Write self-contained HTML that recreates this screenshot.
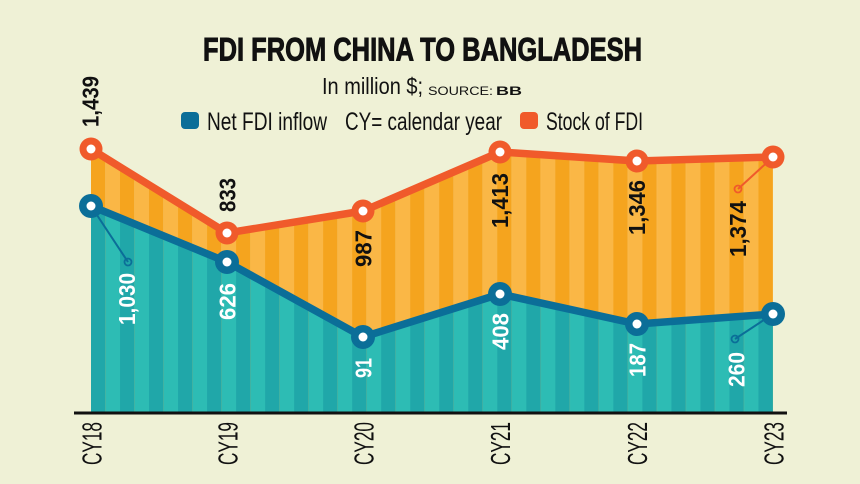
<!DOCTYPE html>
<html>
<head>
<meta charset="utf-8">
<style>
  html, body { margin: 0; padding: 0; background: #eff1d6; }
  svg { display: block; }
  text { font-family: "Liberation Sans", sans-serif; }
</style>
</head>
<body>
<svg width="860" height="484" viewBox="0 0 860 484" xmlns="http://www.w3.org/2000/svg">
  <defs>
    <pattern id="teal" patternUnits="userSpaceOnUse" x="91" y="0" width="29.02" height="484">
      <rect x="0" y="0" width="14.51" height="484" fill="#20a7a9"/>
      <rect x="14.51" y="0" width="14.51" height="484" fill="#2dbcb4"/>
    </pattern>
    <pattern id="orng" patternUnits="userSpaceOnUse" x="91" y="0" width="29.02" height="484">
      <rect x="0" y="0" width="14.51" height="484" fill="#f5a41e"/>
      <rect x="14.51" y="0" width="14.51" height="484" fill="#fab746"/>
    </pattern>
  </defs>

  <rect x="0" y="0" width="860" height="484" fill="#eff1d6"/>

  <!-- Title -->
  <text x="203" y="60.5" font-size="32" font-weight="bold" fill="#111" stroke="#111" stroke-width="0.9" textLength="439" lengthAdjust="spacingAndGlyphs">FDI FROM CHINA TO BANGLADESH</text>
  <text x="322" y="94" font-size="23" fill="#111" textLength="101" lengthAdjust="spacingAndGlyphs">In million $;</text>
  <text x="428" y="95" font-size="12" fill="#111" textLength="65" lengthAdjust="spacingAndGlyphs">SOURCE:</text>
  <text x="496" y="95" font-size="12" font-weight="bold" fill="#111" textLength="26" lengthAdjust="spacingAndGlyphs">BB</text>

  <!-- Legend -->
  <rect x="181" y="112" width="18" height="17" rx="4" fill="#0b6e98"/>
  <text x="207" y="130" font-size="25" fill="#111" textLength="120" lengthAdjust="spacingAndGlyphs">Net FDI inflow</text>
  <text x="345" y="130" font-size="25" fill="#111" textLength="157" lengthAdjust="spacingAndGlyphs">CY= calendar year</text>
  <rect x="520" y="112" width="18" height="17" rx="4" fill="#f05a2b"/>
  <text x="546" y="130" font-size="25" fill="#111" textLength="97" lengthAdjust="spacingAndGlyphs">Stock of FDI</text>

  <!-- Areas -->
  <polygon fill="url(#orng)" points="91,149 227,233 363,211 500,152 637,161 773,157 773,412 91,412"/>
  <polygon fill="url(#teal)" points="91,206 227,262 363,337 500,294 637,324 773,314 773,412 91,412"/>

  <!-- Axis -->
  <rect x="74" y="411.5" width="713" height="3" fill="#111"/>

  <!-- Leader lines -->
  <line x1="91" y1="206" x2="128" y2="262" stroke="#0b6e98" stroke-width="2"/>
  <circle cx="128" cy="262" r="3.5" fill="none" stroke="#0b6e98" stroke-width="1.8"/>
  <line x1="773" y1="157" x2="738" y2="189" stroke="#f05a2b" stroke-width="2"/>
  <circle cx="738" cy="189" r="3.5" fill="none" stroke="#f05a2b" stroke-width="1.8"/>
  <line x1="773" y1="314" x2="735" y2="339" stroke="#0b6e98" stroke-width="2"/>
  <circle cx="735" cy="339" r="3.5" fill="none" stroke="#0b6e98" stroke-width="1.8"/>

  <!-- Lines -->
  <polyline fill="none" stroke="#f05a2b" stroke-width="7.5" stroke-linejoin="round" points="91,149 227,233 363,211 500,152 637,161 773,157"/>
  <polyline fill="none" stroke="#0b6e98" stroke-width="7.5" stroke-linejoin="round" points="91,206 227,262 363,337 500,294 637,324 773,314"/>

  <!-- Markers orange -->
  <g fill="#f05a2b">
    <circle cx="91" cy="149" r="11.5"/>
    <circle cx="227" cy="233" r="11.5"/>
    <circle cx="363" cy="211" r="11.5"/>
    <circle cx="500" cy="152" r="11.5"/>
    <circle cx="637" cy="161" r="11.5"/>
    <circle cx="773" cy="157" r="11.5"/>
  </g>
  <g fill="#0b6e98">
    <circle cx="91" cy="206" r="12"/>
    <circle cx="227" cy="262" r="12"/>
    <circle cx="363" cy="337" r="12"/>
    <circle cx="500" cy="294" r="12"/>
    <circle cx="637" cy="324" r="12"/>
    <circle cx="773" cy="314" r="12"/>
  </g>
  <g fill="#ffffff">
    <circle cx="91" cy="149" r="4.5"/>
    <circle cx="227" cy="233" r="4.5"/>
    <circle cx="363" cy="211" r="4.5"/>
    <circle cx="500" cy="152" r="4.5"/>
    <circle cx="637" cy="161" r="4.5"/>
    <circle cx="773" cy="157" r="4.5"/>
    <circle cx="91" cy="206" r="4.5"/>
    <circle cx="227" cy="262" r="4.5"/>
    <circle cx="363" cy="337" r="4.5"/>
    <circle cx="500" cy="294" r="4.5"/>
    <circle cx="637" cy="324" r="4.5"/>
    <circle cx="773" cy="314" r="4.5"/>
  </g>

  <!-- Stock labels (black) -->
  <g font-size="23" font-weight="bold" fill="#111">
    <text transform="translate(98.5,127) rotate(-90)" textLength="51" lengthAdjust="spacingAndGlyphs">1,439</text>
    <text transform="translate(235.5,212) rotate(-90)" textLength="34" lengthAdjust="spacingAndGlyphs">833</text>
    <text transform="translate(371.5,267) rotate(-90)" textLength="37" lengthAdjust="spacingAndGlyphs">987</text>
    <text transform="translate(508,228) rotate(-90)" textLength="55" lengthAdjust="spacingAndGlyphs">1,413</text>
    <text transform="translate(645,235) rotate(-90)" textLength="55" lengthAdjust="spacingAndGlyphs">1,346</text>
    <text transform="translate(746,257) rotate(-90)" textLength="56" lengthAdjust="spacingAndGlyphs">1,374</text>
  </g>
  <!-- Inflow labels (white) -->
  <g font-size="23" font-weight="bold" fill="#ffffff">
    <text transform="translate(135,325) rotate(-90)" textLength="52" lengthAdjust="spacingAndGlyphs">1,030</text>
    <text transform="translate(235.5,320) rotate(-90)" textLength="37" lengthAdjust="spacingAndGlyphs">626</text>
    <text transform="translate(371.5,378) rotate(-90)" textLength="20" lengthAdjust="spacingAndGlyphs">91</text>
    <text transform="translate(508.5,350) rotate(-90)" textLength="37" lengthAdjust="spacingAndGlyphs">408</text>
    <text transform="translate(645.5,377) rotate(-90)" textLength="34" lengthAdjust="spacingAndGlyphs">187</text>
    <text transform="translate(744.5,387) rotate(-90)" textLength="35" lengthAdjust="spacingAndGlyphs">260</text>
  </g>

  <!-- X-axis labels -->
  <g font-size="28" fill="#111">
    <text transform="translate(101.5,465) rotate(-90)" textLength="43" lengthAdjust="spacingAndGlyphs">CY18</text>
    <text transform="translate(237.5,465) rotate(-90)" textLength="43" lengthAdjust="spacingAndGlyphs">CY19</text>
    <text transform="translate(373.5,465) rotate(-90)" textLength="43" lengthAdjust="spacingAndGlyphs">CY20</text>
    <text transform="translate(510,465) rotate(-90)" textLength="43" lengthAdjust="spacingAndGlyphs">CY21</text>
    <text transform="translate(647,465) rotate(-90)" textLength="43" lengthAdjust="spacingAndGlyphs">CY22</text>
    <text transform="translate(783.5,465) rotate(-90)" textLength="43" lengthAdjust="spacingAndGlyphs">CY23</text>
  </g>
</svg>
</body>
</html>
